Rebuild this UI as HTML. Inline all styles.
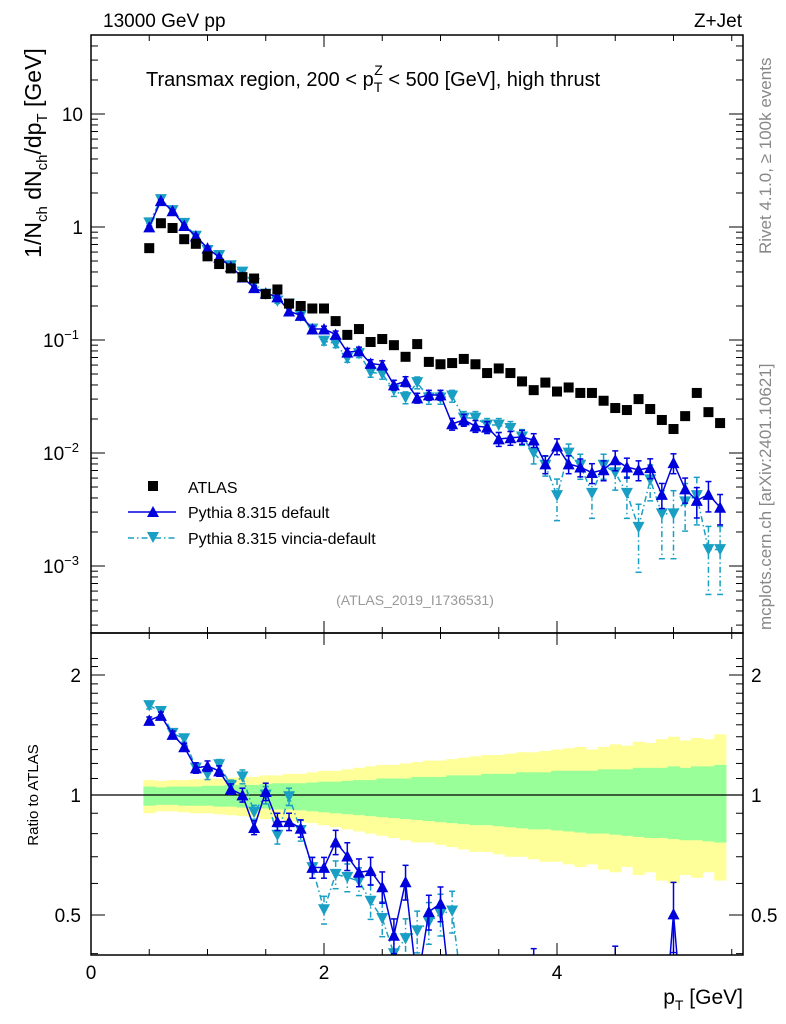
<!DOCTYPE html>
<html><head><meta charset="utf-8">
<style>
html,body{margin:0;padding:0;background:#fff;width:786px;height:1024px;overflow:hidden;}
svg{display:block;font-family:"Liberation Sans",Arial,sans-serif;}
</style></head>
<body>
<svg id="chart" width="786" height="1024" viewBox="0 0 786 1024">
<text x="103" y="27" font-size="19">13000 GeV pp</text>
<text x="742" y="27" font-size="19" text-anchor="end">Z+Jet</text>
<text x="146" y="86" font-size="20">Transmax region, 200 &lt; p<tspan font-size="14" dy="6">T</tspan><tspan font-size="14" dx="-8" dy="-17">Z</tspan><tspan dy="11"> &lt; 500 [GeV], high thrust</tspan></text>
<text transform="translate(771,630) rotate(-90)" font-size="17" fill="#888">mcplots.cern.ch [arXiv:2401.10621]</text>
<text transform="translate(771,254) rotate(-90)" font-size="17" fill="#888">Rivet 4.1.0, ≥ 100k events</text>
<text x="415" y="605" font-size="14" fill="#999" text-anchor="middle">(ATLAS_2019_I1736531)</text>
<text transform="translate(41,153) rotate(-90)" font-size="23" text-anchor="middle">1/N<tspan font-size="15" dy="6">ch</tspan><tspan dy="-6"> dN</tspan><tspan font-size="15" dy="6">ch</tspan><tspan dy="-6">/dp</tspan><tspan font-size="15" dy="6">T</tspan><tspan dy="-6"> [GeV]</tspan></text>
<text transform="translate(38,795) rotate(-90)" font-size="15" text-anchor="middle">Ratio to ATLAS</text>
<text x="743" y="1004" font-size="21" text-anchor="end">p<tspan font-size="14" dy="6">T</tspan><tspan dy="-6"> [GeV]</tspan></text>
<g id="legend">
<g><rect x="148" y="481" width="10" height="10" fill="#000"/><text x="188" y="493" font-size="16">ATLAS</text></g>
<g><line x1="128" y1="512" x2="176" y2="512" stroke="#0000dd" stroke-width="1.5"/><polygon points="153,506 147,517 159,517" fill="#0000dd"/><text x="188" y="518" font-size="16">Pythia 8.315 default</text></g>
<g><line x1="128" y1="538" x2="176" y2="538" stroke="#1a9fc4" stroke-width="1.5" stroke-dasharray="6,3,1.5,3"/><polygon points="147,532 159,532 153,543" fill="#1a9fc4"/><text x="188" y="544" font-size="16">Pythia 8.315 vincia-default</text></g>
</g>
</svg>
<script>
const xCenters=[0.5,0.6,0.7,0.8,0.9,1.0,1.1,1.2,1.3,1.4,1.5,1.6,1.7,1.8,1.9,2.0,2.1,2.2,2.3,2.4,2.5,2.6,2.7,2.8,2.9,3.0,3.1,3.2,3.3,3.4,3.5,3.6,3.7,3.8,3.9,4.0,4.1,4.2,4.3,4.4,4.5,4.6,4.7,4.8,4.9,5.0,5.1,5.2,5.3,5.4];
const atlas=[0.65,1.08,0.98,0.78,0.71,0.55,0.47,0.43,0.36,0.35,0.255,0.28,0.21,0.20,0.19,0.19,0.147,0.111,0.125,0.096,0.102,0.090,0.071,0.092,0.064,0.061,0.0625,0.068,0.061,0.051,0.056,0.051,0.043,0.036,0.042,0.035,0.038,0.034,0.034,0.029,0.025,0.024,0.030,0.0245,0.0196,0.0163,0.0212,0.034,0.023,0.0184];
const pyDefault=[1.00,1.71,1.39,1.03,0.83,0.65,0.54,0.445,0.36,0.29,0.26,0.24,0.18,0.165,0.125,0.125,0.112,0.078,0.080,0.062,0.060,0.040,0.043,0.0307,0.0326,0.0326,0.0181,0.0196,0.0173,0.0169,0.0133,0.0136,0.0139,0.0130,0.0080,0.0115,0.0080,0.0075,0.0067,0.0071,0.0087,0.0075,0.0071,0.0074,0.0043,0.0082,0.0048,0.0038,0.0043,0.0033];
const pyDefaultErr=[0.02,0.02,0.02,0.02,0.03,0.03,0.03,0.03,0.04,0.04,0.05,0.05,0.05,0.05,0.06,0.06,0.07,0.08,0.08,0.08,0.09,0.1,0.1,0.1,0.1,0.1,0.12,0.12,0.12,0.12,0.14,0.14,0.14,0.14,0.18,0.16,0.18,0.18,0.2,0.2,0.2,0.2,0.2,0.2,0.25,0.2,0.25,0.3,0.3,0.3];
const pyVincia=[1.09,1.75,1.40,1.08,0.83,0.62,0.56,0.455,0.40,0.317,0.255,0.222,0.208,0.163,0.125,0.098,0.093,0.069,0.076,0.052,0.050,0.036,0.031,0.042,0.0307,0.0307,0.032,0.0204,0.0204,0.0177,0.0177,0.0165,0.0139,0.0100,0.0078,0.0042,0.0100,0.0078,0.0044,0.0078,0.0067,0.0044,0.0022,0.0058,0.0029,0.0029,0.0037,0.0042,0.0014,0.0014];
const pyVinciaErr=[0.02,0.02,0.02,0.02,0.03,0.03,0.03,0.03,0.04,0.04,0.05,0.05,0.05,0.06,0.06,0.08,0.08,0.08,0.08,0.1,0.1,0.12,0.12,0.12,0.12,0.12,0.12,0.14,0.14,0.14,0.14,0.15,0.16,0.2,0.2,0.4,0.2,0.25,0.4,0.25,0.3,0.4,0.6,0.35,0.6,0.6,0.45,0.45,0.6,0.6];
const bandYellowUp=[1.09,1.085,1.09,1.09,1.095,1.10,1.10,1.105,1.11,1.11,1.12,1.12,1.13,1.13,1.14,1.15,1.15,1.16,1.17,1.18,1.19,1.19,1.20,1.21,1.22,1.22,1.23,1.24,1.25,1.26,1.26,1.27,1.28,1.28,1.29,1.30,1.31,1.32,1.30,1.32,1.34,1.33,1.36,1.35,1.38,1.40,1.37,1.39,1.38,1.42];
const bandYellowDn=[0.90,0.91,0.91,0.905,0.90,0.90,0.895,0.89,0.885,0.88,0.87,0.87,0.86,0.855,0.85,0.84,0.83,0.82,0.81,0.80,0.79,0.78,0.77,0.76,0.76,0.75,0.74,0.73,0.72,0.72,0.71,0.70,0.70,0.69,0.68,0.68,0.67,0.66,0.67,0.65,0.64,0.66,0.63,0.64,0.61,0.60,0.63,0.62,0.64,0.61];
const bandGreenUp=[1.05,1.045,1.05,1.05,1.05,1.055,1.055,1.06,1.06,1.06,1.065,1.07,1.07,1.07,1.075,1.08,1.08,1.085,1.09,1.09,1.10,1.10,1.10,1.11,1.11,1.11,1.12,1.12,1.12,1.13,1.13,1.13,1.14,1.14,1.14,1.15,1.15,1.15,1.15,1.16,1.16,1.16,1.17,1.17,1.17,1.18,1.17,1.18,1.18,1.19];
const bandGreenDn=[0.94,0.945,0.945,0.94,0.94,0.94,0.935,0.935,0.93,0.93,0.925,0.92,0.92,0.915,0.91,0.905,0.90,0.895,0.89,0.885,0.88,0.875,0.87,0.865,0.86,0.855,0.85,0.845,0.84,0.84,0.835,0.83,0.825,0.82,0.82,0.815,0.81,0.805,0.80,0.80,0.795,0.79,0.785,0.78,0.78,0.775,0.77,0.77,0.765,0.76];
const xTickLabels=["0","2","4"];
const yTickLabels=["10⁻³","10⁻²","10⁻¹","1","10"];
const ratioTickLabels=["0.5","1","2"];

const NS="http://www.w3.org/2000/svg";
const svg=document.getElementById('chart');
const L=91,R=743,T=35,MB=633,RB=955;
function xs(v){return 91+v*116.5;}
function ys(v){return 227-113*Math.log10(v);}
function yr(v){return 795-120*Math.log2(v);}
function el(tag,attrs,parent){const e=document.createElementNS(NS,tag);for(const k in attrs)e.setAttribute(k,attrs[k]);(parent||svg).appendChild(e);return e;}
function tri(x,y,up,color,g){const s=6;const p=up?`${x},${y-s} ${x-s},${y+s*0.9} ${x+s},${y+s*0.9}`:`${x-s},${y-s*0.9} ${x+s},${y-s*0.9} ${x},${y+s}`;return el('polygon',{points:p,fill:color},g);}

const defs=el('defs',{});
const cm=el('clipPath',{id:'cm'},defs);el('rect',{x:L,y:T,width:R-L,height:MB-T},cm);
const cr=el('clipPath',{id:'cr'},defs);el('rect',{x:L,y:MB,width:R-L,height:RB-MB},cr);

const gb=el('g',{'clip-path':'url(#cr)'});


xCenters.forEach((c,i)=>{
  const x0=xs(c-0.05),x1=xs(c+0.05);
  const ry=el('rect',{x:x0,y:yr(bandYellowUp[i]),width:x1-x0+0.5,height:yr(bandYellowDn[i])-yr(bandYellowUp[i]),fill:'#ffff99'},gb);
  
  
});
xCenters.forEach((c,i)=>{
  const x0=xs(c-0.05),x1=xs(c+0.05);
  const rg=el('rect',{x:x0,y:yr(bandGreenUp[i]),width:x1-x0+0.5,height:yr(bandGreenDn[i])-yr(bandGreenUp[i]),fill:'#99ff99'},gb);
  
  
});
el('line',{x1:L,y1:yr(1),x2:R,y2:yr(1),stroke:'#000','stroke-width':1.2});

function drawSeries(vals,errs,color,dash,up,name,yf,clip,ratio){
  const g=el('g',{'clip-path':clip});
  
  
  const pts=vals.map((v,i)=>{const r=ratio?v/atlas[i]:v;return [xs(xCenters[i]),yf(r),r];});
  el('polyline',{points:pts.map(p=>p[0]+','+p[1]).join(' '),fill:'none',stroke:color,'stroke-width':1.5,'stroke-dasharray':dash},g);
  pts.forEach((p,i)=>{
    const e=errs[i];const hi=yf(p[2]*(1+e)),lo=yf(Math.max(p[2]*(1-e),1e-6));
    el('line',{x1:p[0],y1:hi,x2:p[0],y2:lo,stroke:color,'stroke-width':1.5,'stroke-dasharray':dash},g);
    el('line',{x1:p[0]-3,y1:hi,x2:p[0]+3,y2:hi,stroke:color,'stroke-width':1.5},g);
    el('line',{x1:p[0]-3,y1:lo,x2:p[0]+3,y2:lo,stroke:color,'stroke-width':1.5},g);
    const m=tri(p[0],p[1],up,color,g);
    
    
  });
}
drawSeries(pyVincia,pyVinciaErr,'#1a9fc4','6,3,1.5,3',false,'pythia-vincia-series',ys,'url(#cm)',false);
drawSeries(pyDefault,pyDefaultErr,'#0000dd','none',true,'pythia-default-series',ys,'url(#cm)',false);
drawSeries(pyVincia,pyVinciaErr,'#1a9fc4','6,3,1.5,3',false,'pythia-vincia-ratio',yr,'url(#cr)',true);
drawSeries(pyDefault,pyDefaultErr,'#0000dd','none',true,'pythia-default-ratio',yr,'url(#cr)',true);

const ga=el('g',{});


atlas.forEach((v,i)=>{
  const r=el('rect',{x:xs(xCenters[i])-5,y:ys(v)-5,width:10,height:10,fill:'#000'},ga);
  
  
});

el('rect',{x:L,y:T,width:R-L,height:MB-T,fill:'none',stroke:'#000','stroke-width':1.5});
el('rect',{x:L,y:MB,width:R-L,height:RB-MB,fill:'none',stroke:'#000','stroke-width':1.5});

const gt=el('g',{stroke:'#000','stroke-width':1});
for(let v=0;v<=5.6;v+=0.5){
  const x=xs(v);if(x>R)break;
  const major=Math.abs(v-Math.round(v/2)*2)<1e-6;const len=major?12:6;
  [[T,1],[MB,-1],[MB,1],[RB,-1]].forEach(([y,d])=>el('line',{x1:x,y1:y,x2:x,y2:y+d*len},gt));
}
xTickLabels.forEach(t=>{
  const tx=el('text',{x:xs(+t),y:RB+24,'font-size':19,'text-anchor':'middle'});tx.textContent=t;
  
  
});
for(let d=-4;d<=1;d++){
  for(let m=1;m<=9;m++){
    const v=m*Math.pow(10,d);const y=ys(v);if(y<T||y>MB)continue;
    const len=m==1?14:7;
    el('line',{x1:L,y1:y,x2:L+len,y2:y},gt);el('line',{x1:R,y1:y,x2:R-len,y2:y},gt);
  }
}
const decs=[-3,-2,-1,0,1];
yTickLabels.forEach((t,i)=>{
  const d=decs[i];const y=ys(Math.pow(10,d));
  const tx=el('text',{x:d<0?L-12:L-8,y:y+7,'font-size':19,'text-anchor':'end'});
  if(d===0)tx.textContent='1';else if(d===1)tx.textContent='10';
  else{tx.textContent='10';const ts=el('tspan',{'font-size':13,dy:-8},tx);ts.textContent='−'+(-d);}
  
  
});
for(let v=0.4;v<=2.3;v+=0.1){
  const y=yr(v);if(y<MB||y>RB)continue;
  const major=[0.5,1,2].some(m=>Math.abs(m-v)<1e-6);const len=major?14:7;
  el('line',{x1:L,y1:y,x2:L+len,y2:y},gt);el('line',{x1:R,y1:y,x2:R-len,y2:y},gt);
}
ratioTickLabels.forEach(t=>{
  const y=yr(+t)+7;
  const a=el('text',{x:L-10,y:y,'font-size':19,'text-anchor':'end'});a.textContent=t;
  
  
  const b=el('text',{x:R+8,y:y,'font-size':19});b.textContent=t;
  
  
});
</script>
</body></html>
